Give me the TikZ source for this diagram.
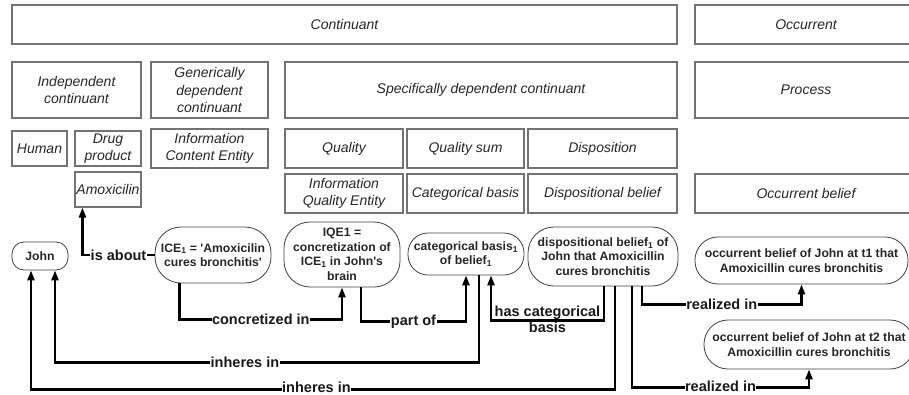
\documentclass[tikz,border=0pt]{standalone}
\usepackage{fontspec}
\setmainfont{Liberation Sans}
\usetikzlibrary{arrows.meta}
\begin{document}
\begin{tikzpicture}[x=1pt,y=-1pt,
  cat/.style={draw=black!55, line width=1.1pt, font=\itshape\fontsize{14}{17.5}\selectfont, text=black!85, align=center, inner sep=0pt, rectangle},
  ent/.style={draw=black!75, line width=0.8pt, font=\bfseries\fontsize{12.2}{14.5}\selectfont, text=black!85, align=center, inner sep=0pt},
  conn/.style={line width=2.4pt, -{Triangle[length=10pt,width=7pt]}},
  lbl/.style={fill=white, font=\bfseries\fontsize{14.5}{16.5}\selectfont, inner sep=0.5pt, text=black!90, align=center}
]
\useasboundingbox (0,0) rectangle (909,394);
\clip (0,0) rectangle (909,394);

% row 1
\node[cat, minimum width=665pt, minimum height=39pt] (cont) at (344.5,24.5) {Continuant};
\node[cat, minimum width=222pt, minimum height=39pt] (occ) at (806,24.5) {Occurrent};
% row 2
\node[cat, minimum width=129pt, minimum height=56pt] (indep) at (76.5,90) {Independent\\continuant};
\node[cat, minimum width=117pt, minimum height=56pt] (gdc) at (209.5,90) {Generically\\dependent\\continuant};
\node[cat, minimum width=392pt, minimum height=56pt] (sdc) at (481,90) {Specifically dependent continuant};
\node[cat, minimum width=222pt, minimum height=56pt] (proc) at (806,90) {Process};
% row 3
\node[cat, minimum width=55pt, minimum height=35pt] (human) at (39.5,148.5) {Human};
\node[cat, minimum width=66pt, minimum height=35pt] (drug) at (108,148.5) {Drug\\product};
\node[cat, minimum width=117pt, minimum height=39pt] (ice0) at (209.5,148.5) {Information\\Content Entity};
\node[cat, minimum width=118pt, minimum height=39pt] (qual) at (344,148.5) {Quality};
\node[cat, minimum width=117pt, minimum height=39pt] (qsum) at (465.5,148.5) {Quality sum};
\node[cat, minimum width=149pt, minimum height=39pt] (dispo) at (602.5,148.5) {Disposition};
% row 4
\node[cat, minimum width=66pt, minimum height=35pt] (amox) at (108,189.5) {Amoxicilin};
\node[cat, minimum width=118pt, minimum height=39pt] (iqe0) at (344,193.5) {Information\\Quality Entity};
\node[cat, minimum width=117pt, minimum height=39pt] (catb0) at (465.5,193.5) {Categorical basis};
\node[cat, minimum width=149pt, minimum height=39pt] (dispb0) at (602.5,193.5) {Dispositional belief};
\node[cat, minimum width=222pt, minimum height=39pt] (occb0) at (806,193.5) {Occurrent belief};

% instances
\node[ent, rounded corners=12pt, minimum width=56pt, minimum height=28pt] (john) at (40,256) {John};
\node[ent, rounded corners=26pt, minimum width=116pt, minimum height=56pt] (ice) at (213,255) {ICE\textsubscript{1} = \textquotesingle Amoxicilin\\cures bronchitis\textquotesingle};
\node[ent, rounded corners=26pt, minimum width=116pt, minimum height=65pt] (iqe) at (342,254.5) {IQE1 =\\concretization of\\ICE\textsubscript{1} in John\textquotesingle s\\brain};
\node[ent, rounded corners=20pt, minimum width=116pt, minimum height=42pt] (catb) at (466,254) {categorical basis\textsubscript{1}\\of belief\textsubscript{1}};
\node[ent, rounded corners=26pt, minimum width=150pt, minimum height=59pt] (disp) at (603,256.5) {dispositional belief\textsubscript{1} of\\John that Amoxicillin\\cures bronchitis};
\node[ent, rounded corners=23pt, minimum width=213pt, minimum height=47pt] (occA) at (801.5,260.5) {occurrent belief of John at t1 that\\Amoxicillin cures bronchitis};
\node[ent, rounded corners=24pt, minimum width=210pt, minimum height=49pt] (occB) at (809,344.5) {occurrent belief of John at t2 that\\Amoxicillin cures bronchitis};

% connectors
\draw[conn] (ice.west) -| node[lbl,pos=0.25]{is about} ([xshift=8pt]amox.south west);
\draw[conn] ([xshift=25pt]ice.south west) -- ++(0,36) -| node[lbl,pos=0.25]{concretized in} (iqe.south);
\draw[conn] ([xshift=19pt]iqe.south) -- ++(0,34) -| node[lbl,pos=0.25]{part of} (catb.south);
\draw[conn] ([xshift=13pt]catb.south) -- ++(0,87) -| node[lbl,pos=0.276]{inheres in} ([xshift=15pt]john.south);
\draw[conn] ([xshift=12pt]disp.south) -- ++(0,103) -| node[lbl,pos=0.2556,yshift=2.5pt]{inheres in} ([xshift=-9pt]john.south);
\draw[conn] ([xshift=1pt]disp.south) -- ++(0,34) -| node[lbl,fill=none,pos=0.25,yshift=1pt]{has categorical\\basis} ([xshift=25pt]catb.south);
\draw[conn] ([xshift=39pt]disp.south) -- ++(0,18) -| node[lbl,pos=0.25]{realized in} (occA.south);
\draw[conn] ([xshift=29pt]disp.south) -- ++(0,101) -| node[lbl,pos=0.25,yshift=1pt]{realized in} (occB.south);
\end{tikzpicture}
\end{document}
